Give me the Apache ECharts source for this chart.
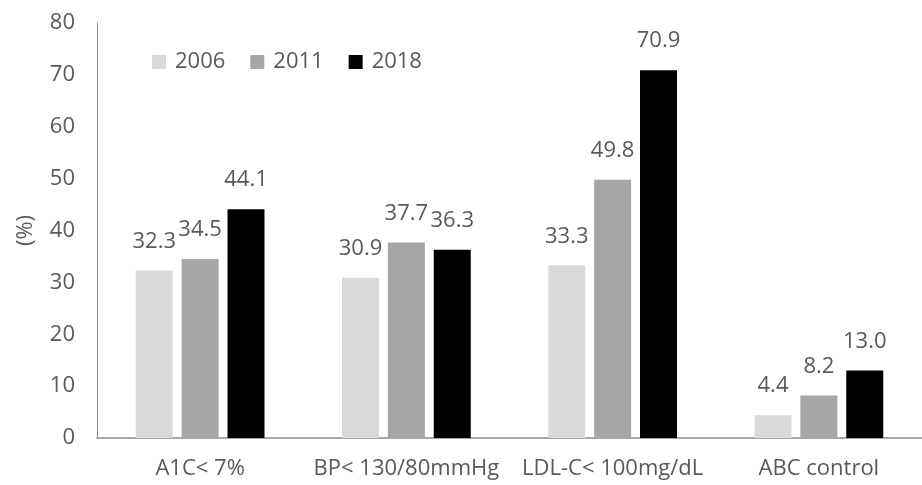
<!DOCTYPE html>
<html>
<head>
<meta charset="utf-8">
<script src="https://cdn.jsdelivr.net/npm/echarts@6/dist/echarts.min.js"></script>
<style>
html, body { margin: 0; padding: 0; background: #fff; }
#container { width: 922px; height: 485px; }
</style>
</head>
<body>
<div id="container"></div>
<script>
var categories = ['A1C< 7%', 'BP< 130/80mmHg', 'LDL-C< 100mg/dL', 'ABC control'];
var years = ['2006', '2011', '2018'];
var data2006 = [32.3, 30.9, 33.3, 4.4];
var data2011 = [34.5, 37.7, 49.8, 8.2];
var data2018 = [44.1, 36.3, 70.9, 13.0];
var colors = ['#d9d9d9', '#a6a6a6', '#000000'];

var myChart = echarts.init(document.getElementById('container'));
var textColor = '#595959';
var fontFamily = '"Open Sans", "Noto Sans", sans-serif';

function makeSeries(name, values, color) {
    return {
        name: name,
        type: 'bar',
        data: values,
        barWidth: 37,
        barGap: '24%',
        itemStyle: { color: color },
        label: {
            show: true,
            position: 'top',
            distance: 18,
            color: textColor,
            fontSize: 22,
            fontFamily: fontFamily,
            formatter: function (p) { return p.value.toFixed(1); }
        }
    };
}

myChart.setOption({
    textStyle: { fontFamily: fontFamily },
    legend: {
        data: years,
        left: 147,
        top: 46,
        itemWidth: 14,
        itemHeight: 14,
        itemGap: 25,
        icon: 'rect',
        textStyle: { color: textColor, fontSize: 22, padding: [0, 0, 0, 4] }
    },
    grid: { left: 97, right: -10, top: 23, bottom: 47 },
    xAxis: {
        type: 'category',
        data: categories,
        axisLine: { lineStyle: { color: '#8c8c8c', width: 1.5 } },
        axisTick: { show: false },
        axisLabel: { color: textColor, fontSize: 22, margin: 20, interval: 0 }
    },
    yAxis: {
        type: 'value',
        min: 0,
        max: 80,
        interval: 10,
        name: '(%)',
        nameLocation: 'middle',
        nameGap: 60,
        nameTextStyle: { color: textColor, fontSize: 22 },
        axisLine: { show: true, lineStyle: { color: '#8c8c8c', width: 1 } },
        axisTick: { show: false },
        splitLine: { show: false },
        axisLabel: { color: textColor, fontSize: 22, margin: 22 }
    },
    series: [
        makeSeries(years[0], data2006, colors[0]),
        makeSeries(years[1], data2011, colors[1]),
        makeSeries(years[2], data2018, colors[2])
    ]
});
</script>
</body>
</html>
